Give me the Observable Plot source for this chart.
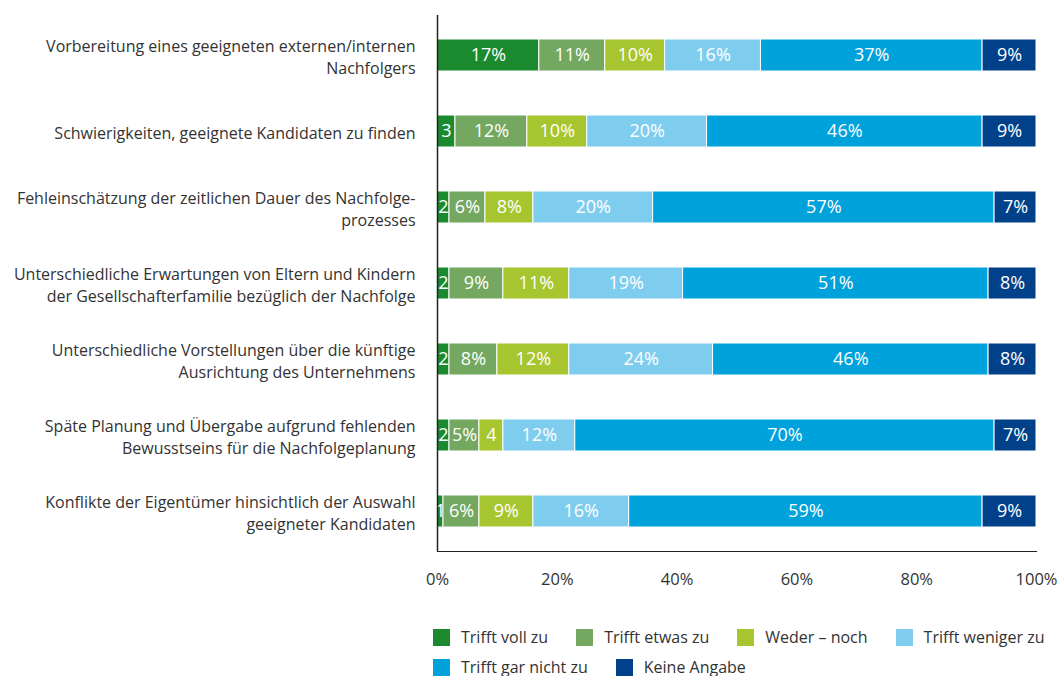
<!DOCTYPE html>
<html>
<head>
<meta charset="utf-8">
<script src="https://cdn.jsdelivr.net/npm/d3@7"></script>
<script src="https://cdn.jsdelivr.net/npm/@observablehq/plot@0.6"></script>
<style>
  body { margin: 0; background: #fff; font-family: "Open Sans", sans-serif; }
  #legend { display: flex; flex-wrap: wrap; width: 628px; margin-left: 433px; margin-top: 28px; column-gap: 28px; row-gap: 12px; font-size: 16px; color: #333; }
  .item { display: flex; align-items: center; height: 18px; }
  .sw { width: 17px; height: 17px; margin-right: 11px; }
</style>
</head>
<body>
<div id="chart"></div>
<div id="legend"></div>
<script>
const items = [
  "Vorbereitung eines geeigneten externen/internen\nNachfolgers",
  "Schwierigkeiten, geeignete Kandidaten zu finden",
  "Fehleinschätzung der zeitlichen Dauer des Nachfolge-\nprozesses",
  "Unterschiedliche Erwartungen von Eltern und Kindern\nder Gesellschafterfamilie bezüglich der Nachfolge",
  "Unterschiedliche Vorstellungen über die künftige\nAusrichtung des Unternehmens",
  "Späte Planung und Übergabe aufgrund fehlenden\nBewusstseins für die Nachfolgeplanung",
  "Konflikte der Eigentümer hinsichtlich der Auswahl\ngeeigneter Kandidaten"
];
const categories = ["Trifft voll zu", "Trifft etwas zu", "Weder – noch", "Trifft weniger zu", "Trifft gar nicht zu", "Keine Angabe"];
const colors = ["#1b8a2f", "#74a75f", "#a7c52e", "#7fcdee", "#00a2dc", "#00418a"];
const trifftVollZu     = [17, 3, 2, 2, 2, 2, 1];
const trifftEtwasZu    = [11, 12, 6, 9, 8, 5, 6];
const wederNoch        = [10, 10, 8, 11, 12, 4, 9];
const trifftWenigerZu  = [16, 20, 20, 19, 24, 12, 16];
const trifftGarNichtZu = [37, 46, 57, 51, 46, 70, 59];
const keineAngabe      = [9, 9, 7, 8, 8, 7, 9];
const xTicks = [0, 20, 40, 60, 80, 100];

const series = [trifftVollZu, trifftEtwasZu, wederNoch, trifftWenigerZu, trifftGarNichtZu, keineAngabe];
const data = [];
items.forEach((item, i) => {
  categories.forEach((cat, j) => {
    data.push({item, cat, value: series[j][i]});
  });
});
const label = d => d.value < 5 ? String(d.value) : d.value + "%";

const chart = Plot.plot({
  width: 1062,
  height: 600,
  marginLeft: 437,
  marginRight: 26,
  marginTop: 15,
  marginBottom: 49,
  style: {fontFamily: "'Open Sans', sans-serif", fontSize: "16px", color: "#333", background: "#fff"},
  x: {domain: [0, 100]},
  y: {domain: items, paddingInner: 0.58, paddingOuter: 0.29},
  color: {domain: categories, range: colors},
  marks: [
    Plot.barX(data, Plot.stackX({x: "value", y: "item", z: "cat", fill: "cat", stroke: "#fff", strokeWidth: 1})),
    Plot.text(data, Plot.stackX({x: "value", y: "item", z: "cat", text: label, fill: "#fff", fontSize: 18})),
    Plot.axisX({ticks: xTicks, tickFormat: d => d + "%", tickSize: 0, tickPadding: 22, label: null, fontSize: 16.5}),
    Plot.axisY({tickSize: 0, tickPadding: 22, label: null, lineHeight: 1.38, fontSize: 16}),
    Plot.ruleX([0], {stroke: "#222", strokeWidth: 1.5}),
    Plot.frame({anchor: "bottom", stroke: "#222", strokeWidth: 1.2})
  ]
});
document.getElementById("chart").appendChild(chart);

const legend = document.getElementById("legend");
categories.forEach((c, i) => {
  const el = document.createElement("div");
  el.className = "item";
  el.innerHTML = `<span class="sw" style="background:${colors[i]}"></span><span>${c}</span>`;
  legend.appendChild(el);
});
</script>
</body>
</html>
